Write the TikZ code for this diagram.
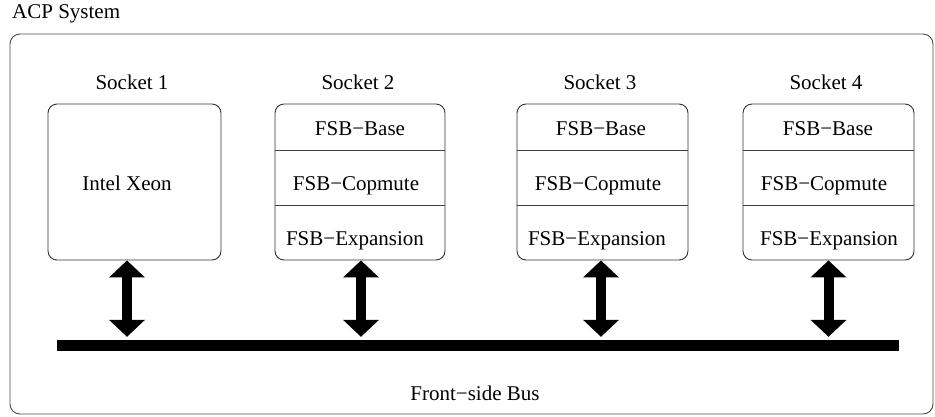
\documentclass[tikz,border=0pt]{standalone}
\usepackage{fontspec}
\setmainfont{Liberation Serif}
\usetikzlibrary{arrows.meta}
\begin{document}
\begin{tikzpicture}[x=1pt,y=-1pt,
  lbl/.style={font=\fontsize{21}{25}\selectfont, inner sep=0pt, anchor=base},
  frame/.style={draw=black!70, line width=0.9pt, rounded corners=10pt, minimum width=923pt, minimum height=380pt, inner sep=0pt},
  sock/.style={draw=black!80, line width=0.9pt, rounded corners=9pt, minimum height=156pt, inner sep=0pt},
  sep/.style={draw=black!75, line width=0.9pt},
  bidir/.style={line width=10pt, {Triangle[length=17pt,width=35pt]}-{Triangle[length=17pt,width=35pt]}},
]
\useasboundingbox (0,0) rectangle (935,416);
\node[lbl, anchor=base west] (title) at (12,18) {ACP System};
\node[frame] (sys) at (471.5,224) {};
% sockets
\node[sock, minimum width=173pt] (s1) at (134.5,182) {};
\node[sock, minimum width=170pt] (s2) at (360,182) {};
\node[sock, minimum width=171pt] (s3) at (602.5,182) {};
\node[sock, minimum width=171pt] (s4) at (828.5,182) {};
% socket labels
\node[lbl] (l1) at (132,89) {Socket 1};
\node[lbl] (l2) at (358,89) {Socket 2};
\node[lbl] (l3) at (600,89) {Socket 3};
\node[lbl] (l4) at (826,89) {Socket 4};
% socket 1 content
\node[lbl] (xeon) at (127,190) {Intel Xeon};
% dividers
\foreach \s in {s2,s3,s4}{
  \draw[sep] ([yshift=-47pt]\s.north west) -- ([yshift=-47pt]\s.north east);
  \draw[sep] ([yshift=-102pt]\s.north west) -- ([yshift=-102pt]\s.north east);
}
% section texts
\node[lbl] (b2) at (360,135) {FSB−Base};
\node[lbl] (c2) at (356,190) {FSB−Copmute};
\node[lbl] (e2) at (355,245) {FSB−Expansion};
\node[lbl] (b3) at (601,135) {FSB−Base};
\node[lbl] (c3) at (598,190) {FSB−Copmute};
\node[lbl] (e3) at (597,245) {FSB−Expansion};
\node[lbl] (b4) at (828,135) {FSB−Base};
\node[lbl] (c4) at (824,190) {FSB−Copmute};
\node[lbl] (e4) at (829,245) {FSB−Expansion};
% bus
\node[fill=black, minimum width=842pt, minimum height=11pt, inner sep=0pt] (bus) at (478,345.5) {};
\node[lbl] (buslbl) at (475,400) {Front−side Bus};
% arrows
\coordinate (a1) at ([xshift=-7.5pt]s1.south);
\coordinate (a2) at ([xshift=1pt]s2.south);
\coordinate (a3) at ([xshift=-1.5pt]s3.south);
\coordinate (a4) at (s4.south);
\foreach \a in {a1,a2,a3,a4}{
  \draw[bidir, shorten >=3pt] (\a) -- (\a |- bus.north);
}
\end{tikzpicture}
\end{document}
